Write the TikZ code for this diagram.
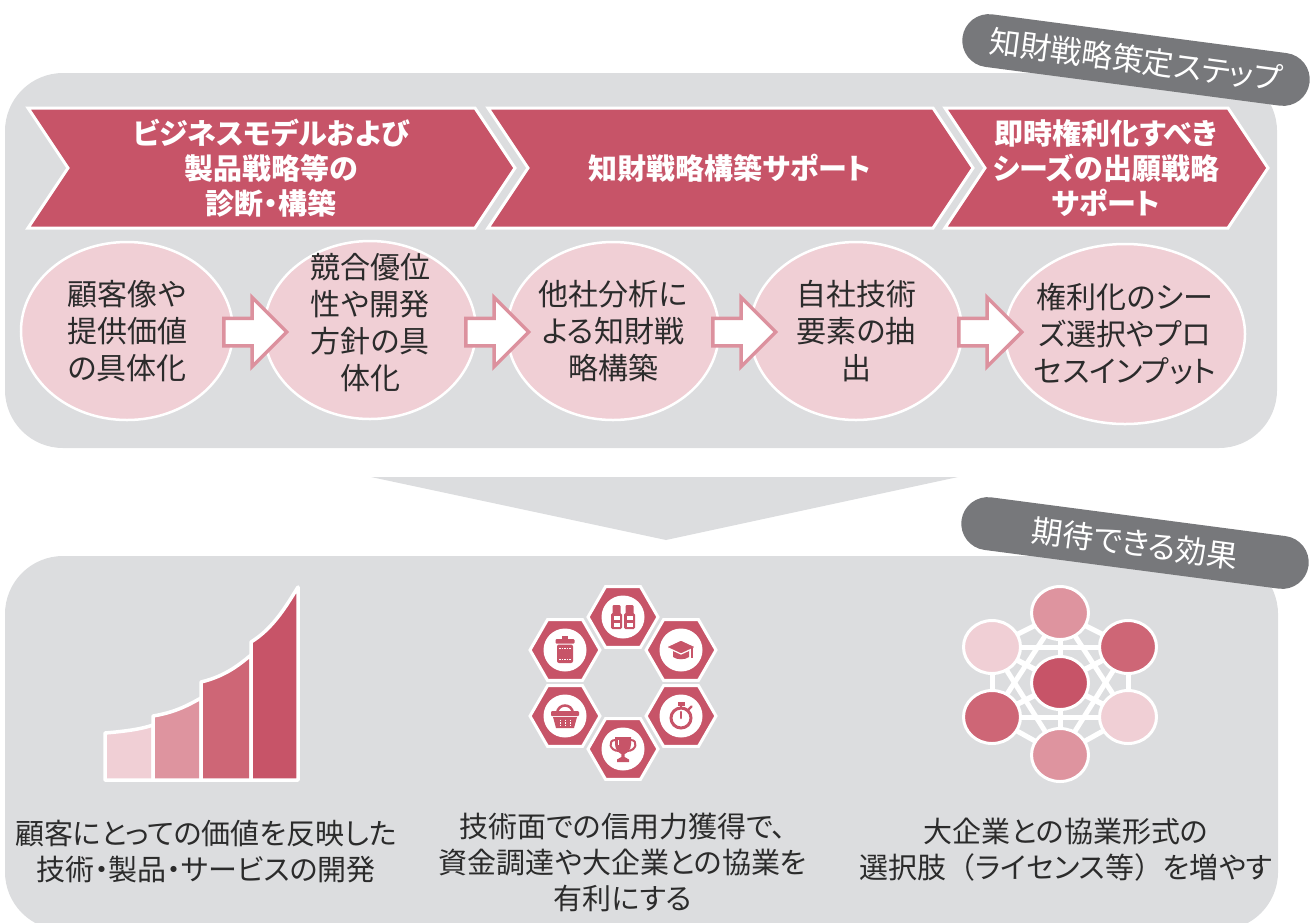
\documentclass[tikz,border=0pt]{standalone}
\usepackage{fontspec}
\setmainfont{Noto Sans CJK JP}[RawFeature={+palt}]
\newfontfamily\jpfull{Noto Sans CJK JP}
\usetikzlibrary{shapes.geometric,shapes.arrows,shapes.misc}
\definecolor{panelgray}{HTML}{DCDDDF}
\definecolor{taggray}{HTML}{77787B}
\definecolor{chevred}{HTML}{C75468}
\definecolor{ellpink}{HTML}{F0CFD5}
\definecolor{arrowpink}{HTML}{DC919E}
\definecolor{barpink}{HTML}{DE949F}
\definecolor{barrose}{HTML}{CE6676}
\definecolor{inktext}{HTML}{2B2B2B}
\pgfdeclarelayer{back}
\pgfdeclarelayer{links}
\pgfsetlayers{back,links,main}
\begin{document}
\begin{tikzpicture}[x=1pt,y=-1pt,
  tag/.style={rounded rectangle, fill=taggray, text=white, minimum width=350pt,
    minimum height=53pt, rotate=-7.5, inner sep=0pt,
    font=\fontsize{31}{31}\selectfont},
  chev/.style={fill=chevred, draw=white, line width=3pt, line join=miter},
  chevtext/.style={text=white, align=center, font=\fontsize{29}{35}\selectfont\bfseries},
  stepell/.style={ellipse, fill=ellpink, draw=white, line width=2.5pt,
    minimum width=212pt, minimum height=178pt, inner sep=0pt},
  steptext/.style={text=inktext, align=center, font=\fontsize{30}{37}\selectfont},
  blockarr/.style={single arrow, draw=arrowpink, fill=white, line width=3.5pt,
    inner xsep=0pt, inner ysep=12pt, single arrow head extend=21pt,
    minimum height=63pt, anchor=tail},
  bar/.style={draw=white, line width=3.5pt, line join=round},
  hexcell/.style={regular polygon, regular polygon sides=6, fill=chevred, draw=white,
    line width=3pt, minimum size=70pt, inner sep=0pt},
  iconbg/.style={circle, fill=white, minimum size=43pt, inner sep=0pt},
  netdot/.style={ellipse, draw=white, line width=3pt, minimum width=57pt,
    minimum height=53pt, inner sep=0pt},
  netlink/.style={draw=white, line width=5pt},
  captext/.style={text=inktext, align=center, font=\fontsize{29}{36}\selectfont}]

\useasboundingbox (0,0) rectangle (1316,922);

% grey panels and the funnel between them
\begin{pgfonlayer}{back}
  \fill[panelgray, rounded corners=58pt] (5,73) rectangle (1277,448);
  \fill[panelgray] (371,477) -- (958,477) -- (666,540) -- cycle;
  \fill[panelgray, rounded corners=58pt] (5,556) rectangle (1278,930);
\end{pgfonlayer}

% section tags
\node[tag] (tag1) at (1136,60) {知財戦略策定ステップ};
\node[tag] (tag2) at (1135,543) {期待できる効果};

% chevron row
\draw[chev] (28,108) -- (475,108) -- (515,168) -- (475,228) -- (28,228) -- (68,168) -- cycle;
\draw[chev] (488,108) -- (933,108) -- (973,168) -- (933,228) -- (488,228) -- (528,168) -- cycle;
\draw[chev] (945,108) -- (1228,108) -- (1268,168) -- (1228,228) -- (945,228) -- (985,168) -- cycle;
\node[chevtext] (s1) at (271,168) {ビジネスモデルおよび\\製品戦略等の\\診断・構築};
\node[chevtext] (s2) at (730,168) {知財戦略構築サポート};
\node[chevtext] (s3) at (1106,168) {即時権利化すべき\\シーズの出願戦略\\サポート};

% step ellipses
\node[stepell] (e1) at (127,331) {};
\node[stepell] (e2) at (370,330) {};
\node[stepell] (e3) at (613,331) {};
\node[stepell] (e4) at (856,331) {};
\node[stepell, minimum width=240pt, minimum height=180pt] (e5) at (1125,334) {};
\node[steptext] (t1) at (e1) {顧客像や\\提供価値\\の具体化};
\node[steptext] (t2) at ([yshift=7pt]e2.center) {競合優位\\性や開発\\方針の具\\体化};
\node[steptext] (t3) at (e3) {他社分析に\\よる知財戦\\略構築};
\node[steptext] (t4) at (e4) {自社技術\\要素の抽\\出};
\node[steptext] (t5) at (e5) {権利化のシー\\ズ選択やプロ\\セスインプット};

% block arrows between steps
\node[blockarr] (a1) at (222,332) {};
\node[blockarr] (a2) at (464,332) {};
\node[blockarr] (a3) at (711,332) {};
\node[blockarr] (a4) at (957,332) {};

% growth bars
\draw[bar, fill=ellpink] (105,780) -- (105,733) .. controls (129,731) and (143,728.5) .. (153,725) -- (153,780) -- cycle;
\draw[bar, fill=barpink] (153,780) -- (153,716) .. controls (177,712) and (190,704) .. (201,698) -- (201,780) -- cycle;
\draw[bar, fill=barrose] (201,780) -- (201,682) .. controls (226,676) and (240,664) .. (251,655) -- (251,780) -- cycle;
\draw[bar, fill=chevred] (251,780) -- (251,642) .. controls (274,628) and (288,603) .. (298,587) -- (298,780) -- cycle;

% hexagon ring of icons
\node[hexcell] (hx1) at (623,617) {};
\node[hexcell] (hx2) at (681,650) {};
\node[hexcell] (hx3) at (681,716) {};
\node[hexcell] (hx4) at (623,749) {};
\node[hexcell] (hx5) at (565,716) {};
\node[hexcell] (hx6) at (565,650) {};
\foreach \h in {hx1,hx2,hx3,hx4,hx5,hx6}{\node[iconbg] at (\h) {};}

% binoculars
\begin{scope}[shift={(hx1.center)}]
  \fill[chevred, rounded corners=1.5pt] (-12,-4) rectangle (-1,12);
  \fill[chevred, rounded corners=1.5pt] (1,-4) rectangle (12,12);
  \fill[chevred, rounded corners=1pt] (-10.5,-12) rectangle (-2.5,-3);
  \fill[chevred, rounded corners=1pt] (2.5,-12) rectangle (10.5,-3);
  \fill[white] (-9.5,-1) rectangle (-3.5,3);
  \fill[white] (3.5,-1) rectangle (9.5,3);
  \fill[white] (-9.5,5.5) rectangle (-3.5,9.5);
  \fill[white] (3.5,5.5) rectangle (9.5,9.5);
\end{scope}

% graduation cap
\begin{scope}[shift={(hx2.center)}]
  \fill[chevred] (-8,0) -- (-8,7) .. controls (-4,10) and (4,10) .. (8,7) -- (8,0) -- cycle;
  \draw[chevred, fill=chevred, draw=white, line width=1.2pt, line join=round]
    (-15,-3) -- (0,-10) -- (15,-3) -- (0,4) -- cycle;
  \draw[chevred, line width=1.6pt] (11,-2) -- (11,8);
\end{scope}

% stopwatch
\begin{scope}[shift={(hx3.center)}]
  \draw[chevred, line width=3pt] (0,2) circle (10);
  \draw[chevred, line width=2.5pt, line cap=round] (0,2) -- (0,-4);
  \fill[chevred] (-3.5,-14) rectangle (3.5,-10.5);
  \fill[chevred] (-1.3,-11) rectangle (1.3,-7);
  \draw[chevred, line width=2.2pt, line cap=round] (7,-6) -- (10.5,-9.5);
\end{scope}

% trophy
\begin{scope}[shift={(hx4.center)}]
  \fill[chevred] (-8,-12) -- (8,-12) -- (8,-5) .. controls (8,1) and (4,4) .. (1.6,5)
    -- (1.6,8) -- (6,10.5) -- (6,13) -- (-6,13) -- (-6,10.5) -- (-1.6,8) -- (-1.6,5)
    .. controls (-4,4) and (-8,1) .. (-8,-5) -- cycle;
  \draw[chevred, line width=2pt] (-8,-9) .. controls (-15,-9) and (-14,2) .. (-4,2);
  \draw[chevred, line width=2pt] (8,-9) .. controls (15,-9) and (14,2) .. (4,2);
  \draw[white, line width=1pt] (-4.5,-9) -- (-4.5,-4);
\end{scope}

% shopping basket
\begin{scope}[shift={(hx5.center)}]
  \draw[chevred, line width=2.5pt] (-8,-3) .. controls (-7,-13) and (7,-13) .. (8,-3);
  \fill[chevred, rounded corners=1pt] (-14,-5) rectangle (14,0);
  \fill[chevred] (-12,1) -- (12,1) -- (9,12) -- (-9,12) -- cycle;
  \foreach \x in {-5,0,5}
    \draw[white, line width=1pt, dash pattern=on 1.5pt off 1pt] (\x,3.5) -- (\x,10);
\end{scope}

% canister
\begin{scope}[shift={(hx6.center)}]
  \fill[chevred] (-3,-14) rectangle (3,-10);
  \fill[chevred, rounded corners=1pt] (-9.5,-11) rectangle (9.5,-6.5);
  \fill[chevred, rounded corners=2pt] (-8,-5.5) rectangle (8,13);
  \draw[white, line width=0.8pt, dash pattern=on 1.5pt off 1pt] (-6,-1.5) -- (6,-1.5);
  \draw[white, line width=0.8pt, dash pattern=on 1.5pt off 1pt] (-6,9.5) -- (6,9.5);
\end{scope}

% network of partners
\node[netdot, fill=barpink] (nT) at (1060,613) {};
\node[netdot, fill=ellpink] (nUL) at (992,647) {};
\node[netdot, fill=barrose] (nUR) at (1128,647) {};
\node[netdot, fill=chevred] (nC) at (1060,683) {};
\node[netdot, fill=barrose] (nLL) at (992,717) {};
\node[netdot, fill=ellpink] (nLR) at (1128,717) {};
\node[netdot, fill=barpink] (nB) at (1060,755) {};
\begin{pgfonlayer}{links}
  \foreach \a/\b in {nT/nUL,nT/nUR,nT/nC,nT/nLL,nT/nLR,nT/nB,
                     nUL/nUR,nUL/nC,nUL/nLL,nUL/nLR,nUL/nB,
                     nUR/nC,nUR/nLL,nUR/nLR,nUR/nB,
                     nC/nLL,nC/nLR,nC/nB,
                     nLL/nLR,nLL/nB,nLR/nB}
    \draw[netlink] (\a.center) -- (\b.center);
\end{pgfonlayer}

% captions
\node[captext] (c1) at (206,852) {顧客にとっての価値を反映した\\技術・製品・サービスの開発};
\node[captext] (c2) at (623,862) {技術面での信用力獲得で、\\資金調達や大企業との協業を\\有利にする};
\node[captext] (c3) at (1066,850) {大企業との協業形式の\\選択肢{\jpfull （}ライセンス等{\jpfull ）}を増やす};
\end{tikzpicture}
\end{document}
